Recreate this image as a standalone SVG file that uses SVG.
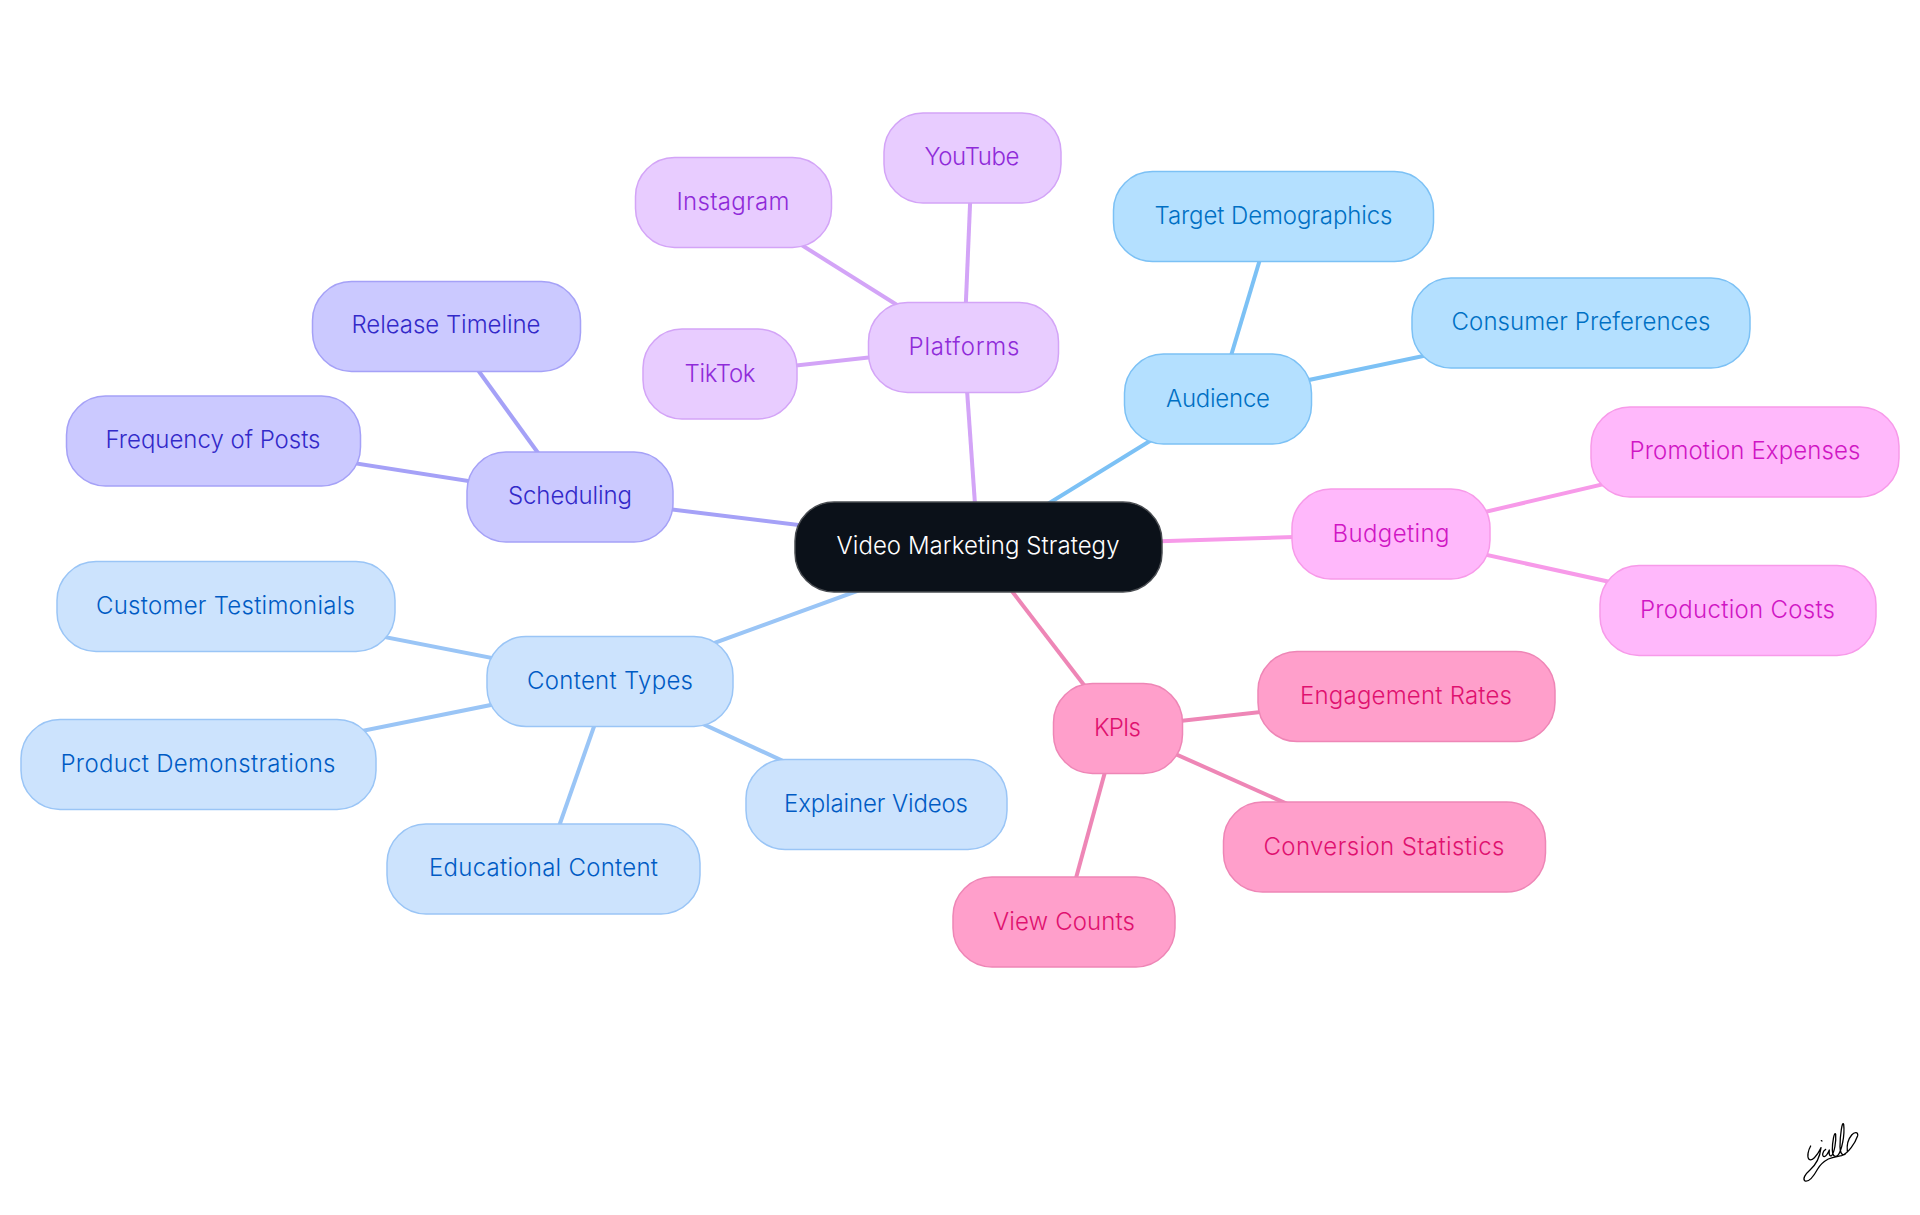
<svg xmlns="http://www.w3.org/2000/svg" width="1920" height="1215" viewBox="0 0 1920 1215">
<style>
text{font-family:Inter,"Noto Sans","Liberation Sans",sans-serif;font-size:24px;font-weight:300;text-anchor:middle;dominant-baseline:central}
rect.n{stroke-width:1.5}
#connectors line{stroke-width:4;fill:none}
.root rect{fill:#0b1119;stroke:#4a4d52}.root text{fill:#fff}
.c rect{fill:#cce3fd;stroke:#9ac5f6}.c text{fill:#005bc4}
.a rect{fill:#b4e0ff;stroke:#7cc1f5}.a text{fill:#0070c4}
.s rect{fill:#cbc9ff;stroke:#a5a1f7}.s text{fill:#3329c9}
.p rect{fill:#e8ccff;stroke:#d3a4f7}.p text{fill:#8f2bd9}
.b rect{fill:#ffb8fb;stroke:#f79ae9}.b text{fill:#d016c4}
.k rect{fill:#ff9fcb;stroke:#ee86b6}.k text{fill:#e0116f}
</style>
<rect width="1920" height="1215" fill="#fff"/>
<g id="connectors">
<g stroke="#9ac5f6"><line x1="978" y1="547" x2="610" y2="681"/><line x1="610" y1="681" x2="226" y2="606"/><line x1="610" y1="681" x2="198" y2="764"/><line x1="610" y1="681" x2="544" y2="869"/><line x1="610" y1="681" x2="876" y2="804"/></g>
<g stroke="#7cc1f5"><line x1="978" y1="547" x2="1218" y2="399"/><line x1="1218" y1="399" x2="1273" y2="216"/><line x1="1218" y1="399" x2="1581" y2="323"/></g>
<g stroke="#a5a1f7"><line x1="978" y1="547" x2="570" y2="497"/><line x1="570" y1="497" x2="446" y2="326"/><line x1="570" y1="497" x2="213" y2="441"/></g>
<g stroke="#d3a4f7"><line x1="978" y1="547" x2="964" y2="347"/><line x1="964" y1="347" x2="972" y2="158"/><line x1="964" y1="347" x2="733" y2="202"/><line x1="964" y1="347" x2="720" y2="374"/></g>
<g stroke="#f79ae9"><line x1="978" y1="547" x2="1391" y2="534"/><line x1="1391" y1="534" x2="1745" y2="451"/><line x1="1391" y1="534" x2="1738" y2="610"/></g>
<g stroke="#ee86b6"><line x1="978" y1="547" x2="1117" y2="728"/><line x1="1117" y1="728" x2="1406" y2="696"/><line x1="1117" y1="728" x2="1384" y2="847"/><line x1="1117" y1="728" x2="1064" y2="922"/></g>
</g>
<g id="root" class="root"><rect class="n" x="795" y="502" width="367" height="90" rx="39"/><text x="978" y="545.5" textLength="283" lengthAdjust="spacing">Video Marketing Strategy</text></g>
<g id="content-types" class="c"><rect class="n" x="487" y="636.5" width="246" height="90" rx="39"/><text x="610" y="680" textLength="166" lengthAdjust="spacing">Content Types</text></g>
<g id="customer-testimonials" class="c"><rect class="n" x="57" y="561.5" width="338" height="90" rx="39"/><text x="225.5" y="605" textLength="259" lengthAdjust="spacing">Customer Testimonials</text></g>
<g id="product-demonstrations" class="c"><rect class="n" x="21" y="719.5" width="355" height="90" rx="39"/><text x="198" y="763" textLength="275" lengthAdjust="spacing">Product Demonstrations</text></g>
<g id="educational-content" class="c"><rect class="n" x="387" y="824" width="313" height="90" rx="39"/><text x="543.5" y="867.5" textLength="229" lengthAdjust="spacing">Educational Content</text></g>
<g id="explainer-videos" class="c"><rect class="n" x="746" y="759.5" width="261" height="90" rx="39"/><text x="876" y="803" textLength="184" lengthAdjust="spacing">Explainer Videos</text></g>
<g id="audience" class="a"><rect class="n" x="1124.5" y="354" width="187" height="90" rx="39"/><text x="1218" y="398.5" textLength="104" lengthAdjust="spacing">Audience</text></g>
<g id="target-demographics" class="a"><rect class="n" x="1113.5" y="171.5" width="320" height="90" rx="39"/><text x="1273.5" y="215" textLength="238" lengthAdjust="spacing">Target Demographics</text></g>
<g id="consumer-preferences" class="a"><rect class="n" x="1412" y="278" width="338" height="90" rx="39"/><text x="1581" y="321" textLength="259" lengthAdjust="spacing">Consumer Preferences</text></g>
<g id="scheduling" class="s"><rect class="n" x="467" y="452" width="206" height="90" rx="39"/><text x="570" y="495.5" textLength="124" lengthAdjust="spacing">Scheduling</text></g>
<g id="release-timeline" class="s"><rect class="n" x="312.5" y="281.5" width="268" height="90" rx="39"/><text x="446" y="324" textLength="189" lengthAdjust="spacing">Release Timeline</text></g>
<g id="frequency-of-posts" class="s"><rect class="n" x="66.5" y="396" width="294" height="90" rx="39"/><text x="213" y="439" textLength="215" lengthAdjust="spacing">Frequency of Posts</text></g>
<g id="platforms" class="p"><rect class="n" x="868.5" y="302.5" width="190" height="90" rx="39"/><text x="964" y="346" textLength="111" lengthAdjust="spacing">Platforms</text></g>
<g id="youtube" class="p"><rect class="n" x="884" y="113" width="177" height="90" rx="39"/><text x="972" y="156" textLength="95" lengthAdjust="spacing">YouTube</text></g>
<g id="instagram" class="p"><rect class="n" x="635.5" y="157.5" width="196" height="90" rx="39"/><text x="733" y="201" textLength="113" lengthAdjust="spacing">Instagram</text></g>
<g id="tiktok" class="p"><rect class="n" x="643" y="329" width="154" height="90" rx="39"/><text x="720" y="373" textLength="71" lengthAdjust="spacing">TikTok</text></g>
<g id="budgeting" class="b"><rect class="n" x="1292" y="489" width="198" height="90" rx="39"/><text x="1391" y="533.5" textLength="117" lengthAdjust="spacing">Budgeting</text></g>
<g id="promotion-expenses" class="b"><rect class="n" x="1591" y="407" width="308" height="90" rx="39"/><text x="1745" y="450" textLength="231" lengthAdjust="spacing">Promotion Expenses</text></g>
<g id="production-costs" class="b"><rect class="n" x="1600" y="565.5" width="276" height="90" rx="39"/><text x="1737.5" y="609.5" textLength="195" lengthAdjust="spacing">Production Costs</text></g>
<g id="kpis" class="k"><rect class="n" x="1053.5" y="683.5" width="129" height="90" rx="39"/><text x="1117.5" y="727" textLength="47" lengthAdjust="spacing">KPIs</text></g>
<g id="engagement-rates" class="k"><rect class="n" x="1258" y="651.5" width="297" height="90" rx="39"/><text x="1406" y="695" textLength="212" lengthAdjust="spacing">Engagement Rates</text></g>
<g id="conversion-statistics" class="k"><rect class="n" x="1223.5" y="802" width="322" height="90" rx="39"/><text x="1384" y="846" textLength="241" lengthAdjust="spacing">Conversion Statistics</text></g>
<g id="view-counts" class="k"><rect class="n" x="953" y="877" width="222" height="90" rx="39"/><text x="1064" y="921" textLength="142" lengthAdjust="spacing">View Counts</text></g>
<g id="signature" transform="translate(1795 1115) scale(.3333)" fill="none" stroke="#000" stroke-width="3.9" stroke-linecap="round" stroke-linejoin="round"><path d="M47 93C40 105 35 125 42 133C50 140 65 125 78 98C75 125 62 150 45 165C30 178 22 192 30 198C42 202 58 180 68 162C75 150 85 140 100 132C115 125 125 125 140 122C160 115 180 85 188 62C190 50 178 50 170 60C160 72 155 90 157 108"/><path d="M92 103C82 108 80 125 88 125C95 123 100 112 103 105C102 115 102 125 110 122C118 112 124 80 122 58C118 48 112 80 112 105C112 120 118 128 128 122C140 110 150 60 146 28C142 15 135 60 135 95C135 112 140 122 150 118"/><path d="M79 77L81 78"/></g>
</svg>
